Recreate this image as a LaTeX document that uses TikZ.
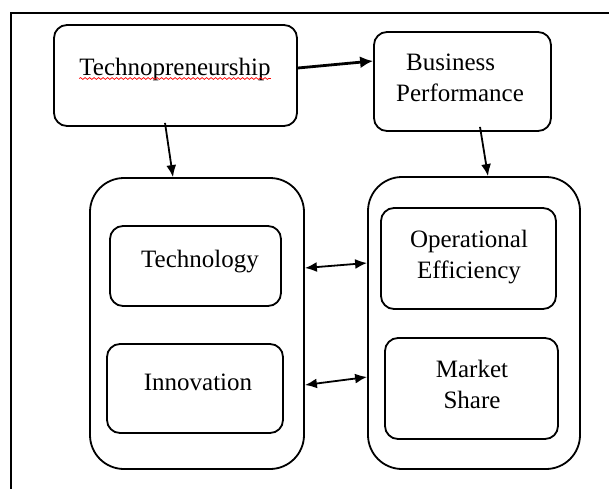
\documentclass[tikz,border=0pt]{standalone}
\usepackage{fontspec}
\setmainfont{Liberation Serif}
\usetikzlibrary{arrows.meta,decorations.pathmorphing}
\begin{document}
\begin{tikzpicture}[x=1pt,y=-1pt,
  box/.style={draw,line width=1.8pt,rounded corners=13pt,inner sep=0pt},
  group/.style={draw,line width=1.8pt,rounded corners=34pt,inner sep=0pt},
  lbl/.style={inner sep=0pt,font=\fontsize{25}{31}\selectfont,align=center},
  link/.style={line width=1.8pt,-{Latex[length=12pt,width=10pt]}},
  both/.style={line width=1.8pt,{Latex[length=12pt,width=10pt]}-{Latex[length=12pt,width=10pt]}}]
\useasboundingbox (0,0) rectangle (609,489);
% frame
\draw[line width=2pt] (609,13) -- (11,13) -- (11,489);

% top row
\node[box,minimum width=243pt,minimum height=101pt] (tp) at (175.5,75.5) {};
\node[lbl,anchor=base] (tpt) at (175,75.5) {Technopreneurship};
\draw[red,line width=0.7pt,decorate,decoration={snake,amplitude=0.9pt,segment length=4.5pt}]
  ([yshift=-3pt]tpt.base west) -- ([yshift=-3pt]tpt.base east);
\node[box,minimum width=177pt,minimum height=99pt] (bp) at (462.5,81.5) {};
\node[lbl,align=left,anchor=base west] (bpt) at (396,102) {\hspace*{10pt}Business\\Performance};

% groups
\node[group,minimum width=214pt,minimum height=291pt] (lc) at (197,323.5) {};
\node[group,minimum width=212pt,minimum height=292pt] (rc) at (474,323) {};

\node[box,minimum width=171pt,minimum height=80pt] (tc) at (195.5,266) {};
\node[lbl,anchor=base] (tct) at (200,267) {Technology};
\node[box,minimum width=176pt,minimum height=89pt] (in) at (195,388.5) {};
\node[lbl,anchor=base] (int) at (198,390) {Innovation};

\node[box,minimum width=175pt,minimum height=101pt] (oe) at (468.5,258.5) {};
\node[lbl,anchor=base] (oet) at (469,278) {Operational\\Efficiency};
\node[box,minimum width=173pt,minimum height=101pt] (ms) at (471.5,388.5) {};
\node[lbl,anchor=base] (mst) at (472,408) {Market\\Share};

% connectors
\draw[link,line width=2.8pt,-{Latex[length=13pt,width=12pt]}] ([yshift=7.5pt]tp.east) -- ([yshift=20.5pt]bp.west);
\draw[link] ([xshift=-10.5pt,yshift=4pt]tp.south) -- ([xshift=-24pt]lc.north);
\draw[link] ([xshift=17.5pt,yshift=5pt]bp.south) -- ([xshift=14pt]rc.north);
\draw[both] ([yshift=55.5pt]lc.east) -- ([yshift=60pt]rc.west);
\draw[both] ([yshift=-61.5pt]lc.east) -- ([yshift=-54pt]rc.west);
\end{tikzpicture}
\end{document}
